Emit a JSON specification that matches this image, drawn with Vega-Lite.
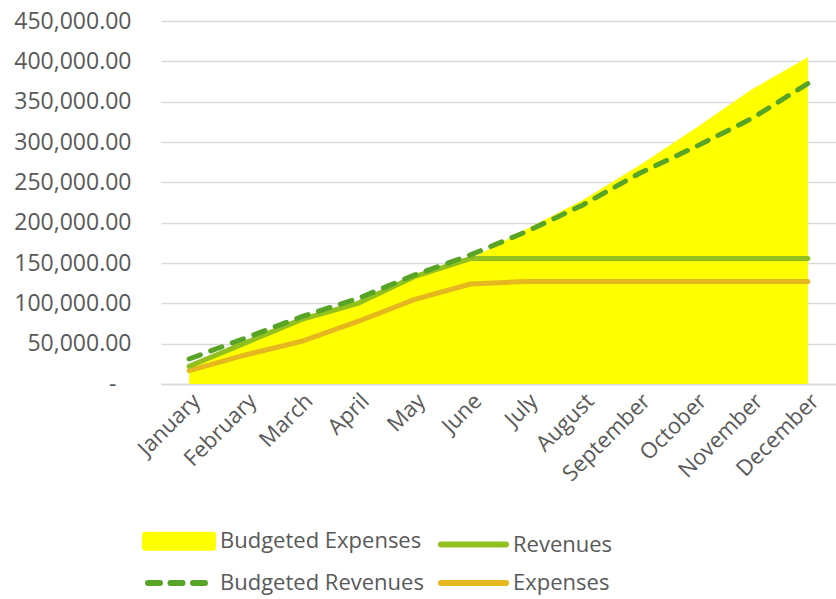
{
  "$schema": "https://vega.github.io/schema/vega-lite/v6.json",
  "autosize": {"type": "none"},
  "padding": {"left": 161, "top": 21, "right": 0, "bottom": 215},
  "width": 675,
  "height": 363,
  "background": "white",
  "config": {
    "font": "Open Sans",
    "view": {"stroke": null},
    "axis": {"labelFont": "Open Sans", "labelColor": "#595959", "labelFontSize": 23, "ticks": false, "title": null}
  },
  "datasets": {
    "d": [
      {"month": "January", "series": "Budgeted Expenses", "value": 20000},
      {"month": "February", "series": "Budgeted Expenses", "value": 50000},
      {"month": "March", "series": "Budgeted Expenses", "value": 80000},
      {"month": "April", "series": "Budgeted Expenses", "value": 100000},
      {"month": "May", "series": "Budgeted Expenses", "value": 134000},
      {"month": "June", "series": "Budgeted Expenses", "value": 155000},
      {"month": "July", "series": "Budgeted Expenses", "value": 192000},
      {"month": "August", "series": "Budgeted Expenses", "value": 228000},
      {"month": "September", "series": "Budgeted Expenses", "value": 271000},
      {"month": "October", "series": "Budgeted Expenses", "value": 317000},
      {"month": "November", "series": "Budgeted Expenses", "value": 365000},
      {"month": "December", "series": "Budgeted Expenses", "value": 405000},
      {"month": "January", "series": "Expenses", "value": 16500},
      {"month": "February", "series": "Expenses", "value": 36000},
      {"month": "March", "series": "Expenses", "value": 53000},
      {"month": "April", "series": "Expenses", "value": 77500},
      {"month": "May", "series": "Expenses", "value": 104500},
      {"month": "June", "series": "Expenses", "value": 124000},
      {"month": "July", "series": "Expenses", "value": 127000},
      {"month": "August", "series": "Expenses", "value": 127000},
      {"month": "September", "series": "Expenses", "value": 127000},
      {"month": "October", "series": "Expenses", "value": 127000},
      {"month": "November", "series": "Expenses", "value": 127000},
      {"month": "December", "series": "Expenses", "value": 127000},
      {"month": "January", "series": "Revenues", "value": 22000},
      {"month": "February", "series": "Revenues", "value": 51000},
      {"month": "March", "series": "Revenues", "value": 80000},
      {"month": "April", "series": "Revenues", "value": 100000},
      {"month": "May", "series": "Revenues", "value": 133000},
      {"month": "June", "series": "Revenues", "value": 155500},
      {"month": "July", "series": "Revenues", "value": 155500},
      {"month": "August", "series": "Revenues", "value": 155500},
      {"month": "September", "series": "Revenues", "value": 155500},
      {"month": "October", "series": "Revenues", "value": 155500},
      {"month": "November", "series": "Revenues", "value": 155500},
      {"month": "December", "series": "Revenues", "value": 155500},
      {"month": "January", "series": "Budgeted Revenues", "value": 31000},
      {"month": "February", "series": "Budgeted Revenues", "value": 57000},
      {"month": "March", "series": "Budgeted Revenues", "value": 83500},
      {"month": "April", "series": "Budgeted Revenues", "value": 106000},
      {"month": "May", "series": "Budgeted Revenues", "value": 135000},
      {"month": "June", "series": "Budgeted Revenues", "value": 160000},
      {"month": "July", "series": "Budgeted Revenues", "value": 189000},
      {"month": "August", "series": "Budgeted Revenues", "value": 222000},
      {"month": "September", "series": "Budgeted Revenues", "value": 261000},
      {"month": "October", "series": "Budgeted Revenues", "value": 294000},
      {"month": "November", "series": "Budgeted Revenues", "value": 329000},
      {"month": "December", "series": "Budgeted Revenues", "value": 372500}
    ]
  },
  "data": {"name": "d"},
  "encoding": {
    "x": {
      "field": "month", "type": "ordinal",
      "sort": ["January","February","March","April","May","June","July","August","September","October","November","December"],
      "axis": {"labelAngle": -45, "labelPadding": 6, "labelFontSize": 22, "domainColor": "#D9D9D9", "domainWidth": 1.5, "grid": false}
    },
    "y": {
      "field": "value", "type": "quantitative",
      "scale": {"domain": [0, 450000], "nice": false},
      "axis": {
        "values": [0,50000,100000,150000,200000,250000,300000,350000,400000,450000],
        "labelExpr": "datum.value === 0 ? '-' : format(datum.value, ',.2f')",
        "labelPadding": {"condition": {"test": "datum.value === 0", "value": 45}, "value": 30},
        "domain": false, "gridColor": "#D9D9D9", "gridWidth": 1.5
      }
    },
    "color": {
      "field": "series", "type": "nominal",
      "scale": {
        "domain": ["Budgeted Expenses", "Revenues", "Budgeted Revenues", "Expenses"],
        "range": ["#FFFF00", "#92C01F", "#58A427", "#E5B820"]
      },
      "legend": {
        "title": null,
        "orient": "none",
        "legendX": -16,
        "legendY": 509,
        "direction": "horizontal",
        "columns": 2,
        "gridAlign": "all",
        "symbolType": "stroke",
        "symbolSize": 100,
        "symbolStrokeWidth": 6,
        "symbolOffset": 23,
        "rowPadding": 11,
        "columnPadding": 5,
        "labelOffset": 30,
        "labelFont": "Open Sans",
        "labelFontSize": 22,
        "labelColor": "#595959",
        "labelLimit": 400,
        "encode": {
          "symbols": {
            "update": {
              "shape": {"signal": "datum.label === 'Budgeted Expenses' ? 'M-6.8,-1.3H6.8V1.3H-6.8Z' : datum.label === 'Budgeted Revenues' ? 'M-6.2,0H5.2' : 'M-6.2,0H6.8'"},
              "fill": {"signal": "datum.label === 'Budgeted Expenses' ? '#FFFF00' : 'transparent'"},
              "stroke": {"signal": "datum.label === 'Budgeted Expenses' ? 'transparent' : datum.label === 'Revenues' ? '#92C01F' : datum.label === 'Budgeted Revenues' ? '#58A427' : '#E5B820'"},
              "strokeDash": {"signal": "datum.label === 'Budgeted Revenues' ? [12, 10.5] : [1, 0]"},
              "strokeCap": {"value": "round"},
              "opacity": {"value": 1}
            }
          }
        }
      }
    }
  },
  "layer": [
    {
      "transform": [{"filter": "datum.series === 'Budgeted Expenses'"}],
      "mark": {"type": "area", "opacity": 1}
    },
    {
      "transform": [{"filter": "datum.series === 'Expenses'"}],
      "mark": {"type": "line", "strokeWidth": 5, "strokeCap": "round"}
    },
    {
      "transform": [{"filter": "datum.series === 'Revenues'"}],
      "mark": {"type": "line", "strokeWidth": 5, "strokeCap": "round"}
    },
    {
      "transform": [{"filter": "datum.series === 'Budgeted Revenues'"}],
      "mark": {"type": "line", "strokeWidth": 5, "strokeCap": "round", "strokeDash": [12, 11]}
    }
  ]
}
